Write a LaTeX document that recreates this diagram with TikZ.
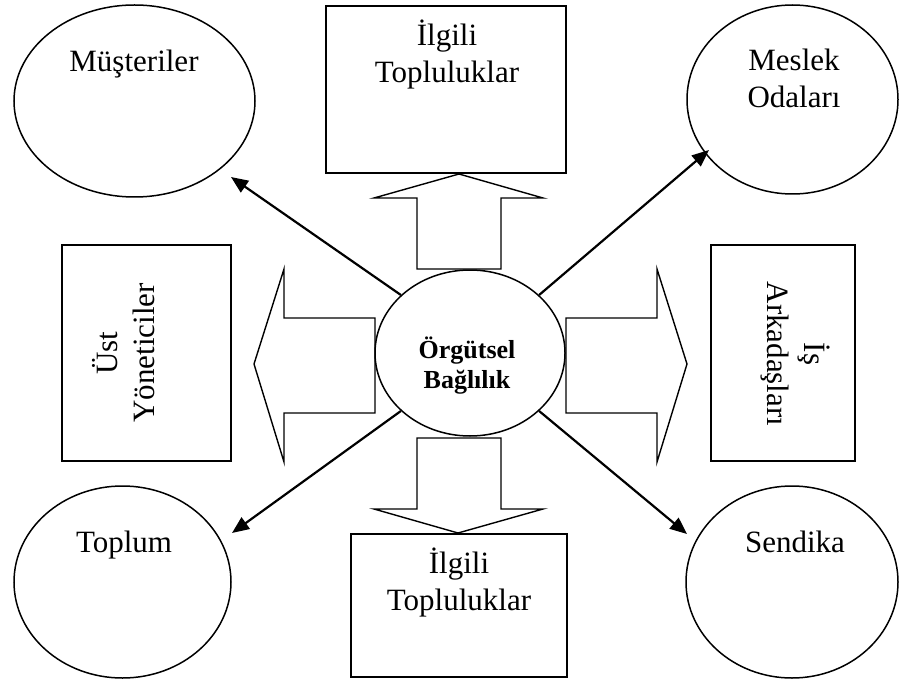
\documentclass[tikz,border=0pt]{standalone}
\usepackage{fontspec}
\setmainfont{Liberation Serif}
\usetikzlibrary{shapes.geometric,arrows.meta}
\newcommand\twolines[2]{\begin{tabular}[t]{@{}c@{}}#1\\#2\end{tabular}}
\begin{document}
\begin{tikzpicture}[x=1pt,y=-1pt,
  shapeline/.style={draw=black,line width=1.5pt},
  oval/.style={shapeline,ellipse,inner sep=0pt},
  boxnode/.style={shapeline,rectangle,inner sep=0pt},
  bigarrow/.style={draw=black,line width=1.4pt,fill=white,line join=miter},
  link/.style={draw=black,line width=2.2pt,-{Triangle[length=17pt,width=14pt]}},
  txt/.style={inner sep=0pt,font=\fontsize{31}{37}\selectfont},
  ctxt/.style={inner sep=0pt,font=\fontsize{26}{30}\selectfont\bfseries}]
\useasboundingbox (0,0) rectangle (899,679);

% block arrows
\draw[bigarrow] (417,269) -- (417,198) -- (374,198) -- (459,174) -- (543,198) -- (501,198) -- (501,269) -- cycle;
\draw[bigarrow] (417,438) -- (417,509) -- (374,509) -- (458,533) -- (543,509) -- (501,509) -- (501,438) -- cycle;
\draw[bigarrow] (375,318) -- (284,318) -- (284,269) -- (254,364) -- (284,462) -- (284,413) -- (375,413) -- cycle;
\draw[bigarrow] (566,318) -- (657,318) -- (657,269) -- (687,364) -- (657,462) -- (657,413) -- (566,413) -- cycle;

% centre
\node[oval,fill=white,minimum width=190pt,minimum height=166pt] (c) at (470,353) {};
\node[ctxt,anchor=base] (ctext) at (467,358) {\twolines{Örgütsel}{Bağlılık}};

% ellipses
\node[oval,minimum width=241pt,minimum height=192pt] (m) at (134.5,101) {};
\node[txt,anchor=base] (mtext) at (134,72) {Müşteriler};
\node[oval,minimum width=211pt,minimum height=189pt] (mo) at (792.5,99.5) {};
\node[txt,anchor=base] (motext) at (794,71) {\twolines{Meslek}{Odaları}};
\node[oval,minimum width=217pt,minimum height=192pt] (t) at (122.5,582) {};
\node[txt,anchor=base] (ttext) at (124,552) {Toplum};
\node[oval,minimum width=212pt,minimum height=192pt] (s) at (792,582) {};
\node[txt,anchor=base] (stext) at (795,552) {Sendika};

% boxes
\node[boxnode,minimum width=240pt,minimum height=167pt] (top) at (446,89.5) {};
\node[txt,anchor=base] (toptext) at (447,46) {\twolines{İlgili}{Topluluklar}};
\node[boxnode,minimum width=216pt,minimum height=143pt] (bot) at (459,605.5) {};
\node[txt,anchor=base] (bottext) at (459,573) {\twolines{İlgili}{Topluluklar}};
\node[boxnode,minimum width=169pt,minimum height=216pt] (left) at (146.5,353) {};
\node[txt,rotate=90,align=center] (lefttext) at (124,353) {Üst\\Yöneticiler};
\node[boxnode,minimum width=144pt,minimum height=216pt] (right) at (783,353) {};
\node[txt,rotate=-90,align=center] (righttext) at (795,354) {İş\\Arkadaşları};

% connectors
\coordinate (mtip) at (231,177);
\coordinate (motip) at (709,150);
\coordinate (ttip) at (232,533);
\coordinate (stip) at (687,534);
\draw[link] (c.140) -- (mtip);
\draw[link] (c.40) -- (motip);
\draw[link] (c.220) -- (ttip);
\draw[link] (c.320) -- (stip);
\end{tikzpicture}
\end{document}
